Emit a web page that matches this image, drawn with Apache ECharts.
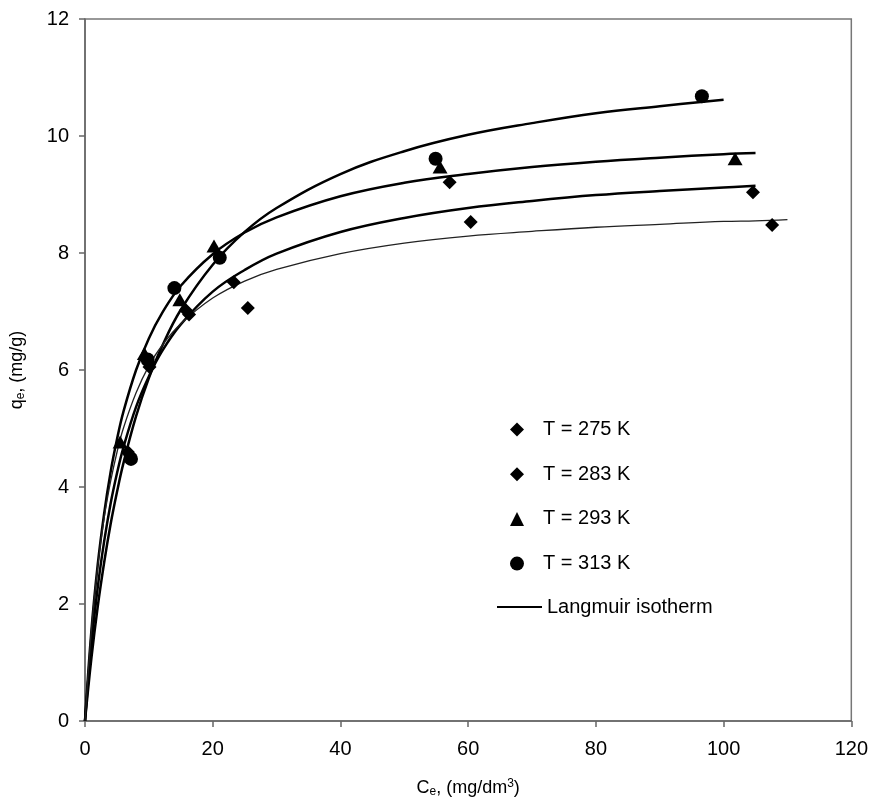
<!DOCTYPE html>
<html>
<head>
<meta charset="utf-8">
<script src="https://cdn.jsdelivr.net/npm/echarts@6/dist/echarts.min.js"></script>
<style>
  html, body { margin: 0; padding: 0; background: #fff; }
  #chart { width: 871px; height: 803px; }
</style>
</head>
<body>
<div id="chart"></div>
<script>
// measured points (Ce, qe)
var ce275 = [6.7, 10.1, 16.3, 25.5, 60.4, 107.6];
var qe275 = [4.60, 6.05, 6.95, 7.06, 8.53, 8.48];
var ce283 = [7.0, 9.9, 15.8, 23.3, 57.1, 104.6];
var qe283 = [4.55, 6.12, 7.02, 7.50, 9.21, 9.04];
var ce293 = [5.5, 9.3, 14.85, 20.2, 55.6, 101.8];
var qe293 = [4.77, 6.28, 7.20, 8.12, 9.47, 9.61];
var ce313 = [7.2, 9.8, 14.0, 21.1, 54.9, 96.6];
var qe313 = [4.48, 6.18, 7.40, 7.92, 9.61, 10.68];

// Langmuir curves
var fitCe = [0, 1, 2, 3, 4, 5, 6, 8, 10, 12, 15, 20, 25, 30, 40, 50, 60, 70, 80, 90, 100, 105, 110];
var fit313 = [0, 1.07, 1.96, 2.71, 3.36, 3.91, 4.40, 5.21, 5.86, 6.39, 7.03, 7.80, 8.36, 8.77, 9.35, 9.74, 10.02, 10.22, 10.39, 10.51, 10.62];
var fit293 = [0, 1.54, 2.68, 3.55, 4.25, 4.81, 5.28, 6.00, 6.54, 6.96, 7.44, 7.98, 8.35, 8.61, 8.97, 9.20, 9.35, 9.47, 9.56, 9.63, 9.69, 9.71];
var fit283 = [0, 1.30, 2.29, 3.07, 3.71, 4.23, 4.67, 5.37, 5.89, 6.31, 6.78, 7.34, 7.71, 7.99, 8.36, 8.60, 8.77, 8.89, 8.99, 9.06, 9.12, 9.15];
var fit275 = [0, 1.56, 2.65, 3.47, 4.09, 4.59, 5.00, 5.61, 6.07, 6.41, 6.79, 7.23, 7.52, 7.72, 7.99, 8.17, 8.29, 8.37, 8.44, 8.49, 8.54, 8.55, 8.57];

var xTicks = [0, 20, 40, 60, 80, 100, 120];
var yTicks = [0, 2, 4, 6, 8, 10, 12];

function pairs(xs, ys) {
  var out = [];
  for (var i = 0; i < ys.length; i++) out.push([xs[i], ys[i]]);
  return out;
}

var font = 'Liberation Sans, Arial, sans-serif';

function scatter(name, symbol, size, xs, ys) {
  return {
    name: name,
    type: 'scatter',
    symbol: symbol,
    symbolSize: size,
    itemStyle: { color: '#000', opacity: 1 },
    z: 5,
    data: pairs(xs, ys)
  };
}

function curve(ys, width, color) {
  return {
    name: 'Langmuir isotherm',
    type: 'line',
    smooth: 0.4,
    symbol: 'none',
    lineStyle: { color: color, width: width },
    itemStyle: { color: color },
    z: 3,
    data: pairs(fitCe, ys)
  };
}

var chart = echarts.init(document.getElementById('chart'));
chart.setOption({
  animation: false,
  backgroundColor: '#fff',
  textStyle: { fontFamily: font },
  grid: {
    left: 82, right: 19, top: 19, bottom: 80,
    show: true, borderColor: '#777', borderWidth: 1.5
  },
  legend: [{
    left: 505, top: 414,
    orient: 'vertical',
    itemWidth: 14, itemHeight: 14, itemGap: 23.7,
    textStyle: { fontSize: 20, color: '#000', lineHeight: 21, fontFamily: font, padding: [0, 0, 0, 14] },
    data: ['T = 275 K', 'T = 283 K', 'T = 293 K', 'T = 313 K']
  }, {
    left: 492, top: 592,
    itemWidth: 45, itemHeight: 2,
    textStyle: { fontSize: 20, color: '#000', lineHeight: 20, fontFamily: font },
    data: [{ name: 'Langmuir isotherm', icon: 'rect' }]
  }],
  xAxis: {
    type: 'value', min: xTicks[0], max: xTicks[xTicks.length - 1], interval: 20,
    name: '{n|C}{s|e}{n|, (mg/dm}{p|3}{n|)}',
    nameLocation: 'middle', nameGap: 57,
    nameTextStyle: {
      rich: {
        n: { fontSize: 18, color: '#000', fontFamily: font },
        s: { fontSize: 12, color: '#000', fontFamily: font, padding: [8, 0, 0, 0] },
        p: { fontSize: 12, color: '#000', fontFamily: font, padding: [0, 0, 8, 0] }
      }
    },
    axisLine: { lineStyle: { color: '#666', width: 1.5 } },
    axisTick: { inside: false, length: 6, lineStyle: { color: '#666', width: 1.5 } },
    axisLabel: { fontSize: 20, color: '#000', margin: 18, fontFamily: font },
    splitLine: { show: false }
  },
  yAxis: {
    type: 'value', min: yTicks[0], max: yTicks[yTicks.length - 1], interval: 2,
    name: '{n|q}{s|e}{n|, (mg/g)}',
    nameLocation: 'middle', nameGap: 58, nameRotate: 90,
    nameTextStyle: {
      rich: {
        n: { fontSize: 18, color: '#000', fontFamily: font },
        s: { fontSize: 12, color: '#000', fontFamily: font, padding: [8, 0, 0, 0] }
      }
    },
    axisLine: { lineStyle: { color: '#666', width: 1.5 } },
    axisTick: { inside: false, length: 6, lineStyle: { color: '#666', width: 1.5 } },
    axisLabel: { fontSize: 20, color: '#000', margin: 16, fontFamily: font },
    splitLine: { show: false }
  },
  series: [
    curve(fit313, 2.5, '#000'),
    curve(fit293, 2.5, '#000'),
    curve(fit283, 2.5, '#000'),
    curve(fit275, 1.3, '#222'),
    scatter('T = 275 K', 'diamond', 14, ce275, qe275),
    scatter('T = 283 K', 'diamond', 14, ce283, qe283),
    scatter('T = 293 K', 'triangle', [15, 13], ce293, qe293),
    scatter('T = 313 K', 'circle', 14, ce313, qe313)
  ]
});
</script>
</body>
</html>
